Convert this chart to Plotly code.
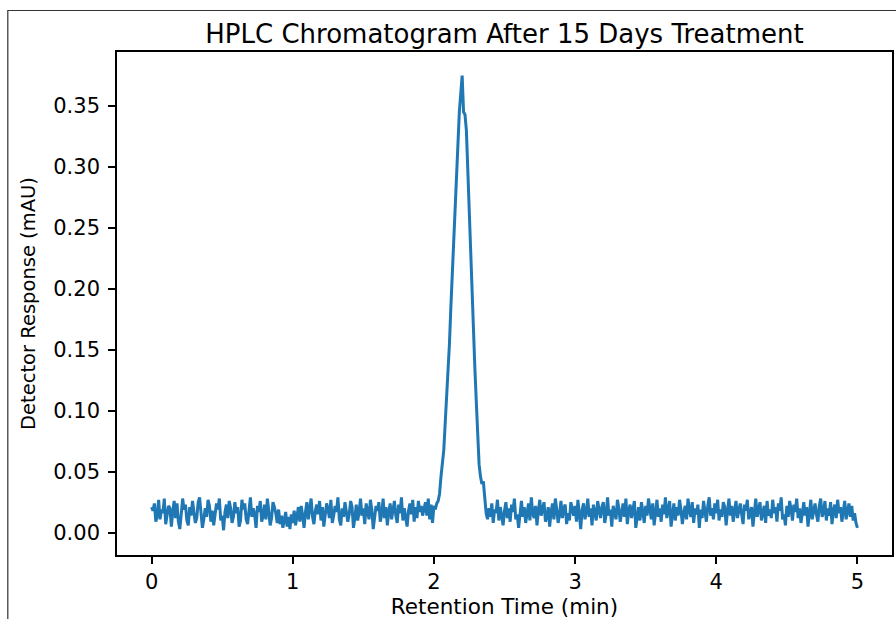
import plotly.graph_objects as go

response_mau = [
    # 0.00 - 0.49
    0.021, 0.018, 0.024, 0.009, 0.014, 0.027, 0.011, 0.019, 0.016, 0.028,
    0.007, 0.013, 0.022, 0.020, 0.005, 0.017, 0.026, 0.012, 0.024, 0.009,
    0.003, 0.015, 0.028, 0.019, 0.023, 0.010, 0.006, 0.021, 0.014, 0.026,
    0.018, 0.008, 0.012, 0.025, 0.029, 0.016, 0.004, 0.011, 0.020, 0.013,
    0.027, 0.022, 0.009, 0.018, 0.006, 0.015, 0.024, 0.019, 0.028, 0.010,
    # 0.50 - 0.99
    0.014, 0.002, 0.017, 0.023, 0.012, 0.026, 0.020, 0.008, 0.013, 0.025,
    0.016, 0.021, 0.005, 0.010, 0.027, 0.019, 0.024, 0.011, 0.007, 0.018,
    0.029, 0.013, 0.020, 0.015, 0.004, 0.022, 0.017, 0.026, 0.009, 0.014,
    0.023, 0.011, 0.028, 0.018, 0.006, 0.012, 0.025, 0.021, 0.016, 0.008,
    0.019, 0.007, 0.014, 0.004, 0.012, 0.017, 0.005, 0.013, 0.003, 0.015,
    # 1.00 - 1.49
    0.008, 0.018, 0.006, 0.012, 0.021, 0.009, 0.022, 0.014, 0.004, 0.017,
    0.025, 0.011, 0.020, 0.028, 0.013, 0.007, 0.018, 0.023, 0.015, 0.026,
    0.010, 0.021, 0.005, 0.016, 0.024, 0.019, 0.012, 0.027, 0.008, 0.014,
    0.022, 0.017, 0.029, 0.011, 0.006, 0.020, 0.013, 0.025, 0.018, 0.009,
    0.015, 0.026, 0.021, 0.004, 0.012, 0.023, 0.010, 0.017, 0.028, 0.014,
    # 1.50 - 1.99
    0.020, 0.007, 0.024, 0.016, 0.011, 0.027, 0.019, 0.003, 0.013, 0.022,
    0.018, 0.025, 0.009, 0.015, 0.028, 0.012, 0.021, 0.006, 0.017, 0.024,
    0.011, 0.019, 0.026, 0.014, 0.008, 0.023, 0.016, 0.029, 0.010, 0.020,
    0.013, 0.005, 0.018, 0.024, 0.015, 0.027, 0.009, 0.021, 0.012, 0.026,
    0.017, 0.022, 0.014, 0.019, 0.025, 0.014, 0.028, 0.011, 0.023, 0.008,
    # 2.00 - 2.49 (main peak)
    0.022, 0.019, 0.024, 0.026, 0.032, 0.046, 0.058, 0.068, 0.090, 0.110,
    0.128, 0.155, 0.185, 0.212, 0.240, 0.270, 0.300, 0.330, 0.345, 0.360,
    0.375, 0.345, 0.343, 0.330, 0.295, 0.258, 0.225, 0.195, 0.165, 0.135,
    0.108, 0.078, 0.056, 0.046, 0.040, 0.042, 0.028, 0.016, 0.011, 0.020,
    0.013, 0.024, 0.008, 0.019, 0.016, 0.027, 0.010, 0.021, 0.014, 0.006,
    # 2.50 - 2.99
    0.018, 0.025, 0.012, 0.020, 0.009, 0.023, 0.017, 0.028, 0.011, 0.015,
    0.004, 0.019, 0.026, 0.013, 0.021, 0.008, 0.017, 0.024, 0.010, 0.029,
    0.016, 0.012, 0.022, 0.006, 0.018, 0.027, 0.014, 0.020, 0.025, 0.009,
    0.013, 0.021, 0.005, 0.017, 0.024, 0.011, 0.028, 0.019, 0.008, 0.015,
    0.026, 0.012, 0.020, 0.023, 0.007, 0.016, 0.010, 0.025, 0.018, 0.014,
    # 3.00 - 3.49
    0.022, 0.009, 0.027, 0.015, 0.003, 0.019, 0.024, 0.011, 0.017, 0.028,
    0.013, 0.020, 0.006, 0.023, 0.016, 0.010, 0.026, 0.018, 0.012, 0.021,
    0.025, 0.008, 0.015, 0.029, 0.014, 0.019, 0.005, 0.022, 0.017, 0.011,
    0.027, 0.020, 0.009, 0.016, 0.024, 0.013, 0.028, 0.007, 0.018, 0.023,
    0.012, 0.019, 0.026, 0.004, 0.015, 0.021, 0.010, 0.025, 0.017, 0.008,
    # 3.50 - 3.99
    0.022, 0.014, 0.028, 0.018, 0.011, 0.024, 0.006, 0.016, 0.027, 0.013,
    0.020, 0.009, 0.023, 0.015, 0.029, 0.012, 0.018, 0.026, 0.005, 0.017,
    0.024, 0.010, 0.021, 0.014, 0.027, 0.019, 0.007, 0.016, 0.022, 0.011,
    0.028, 0.018, 0.013, 0.025, 0.008, 0.020, 0.015, 0.023, 0.004, 0.019,
    0.012, 0.026, 0.017, 0.009, 0.022, 0.029, 0.014, 0.020, 0.011, 0.024,
    # 4.00 - 4.49
    0.016, 0.027, 0.010, 0.019, 0.013, 0.025, 0.021, 0.006, 0.018, 0.028,
    0.014, 0.022, 0.009, 0.017, 0.026, 0.012, 0.020, 0.024, 0.015, 0.007,
    0.023, 0.018, 0.027, 0.011, 0.016, 0.021, 0.005, 0.019, 0.028, 0.013,
    0.020, 0.025, 0.010, 0.017, 0.022, 0.008, 0.026, 0.014, 0.019, 0.012,
    0.027, 0.016, 0.021, 0.009, 0.024, 0.018, 0.029, 0.011, 0.015, 0.006,
    # 4.50 - 5.00
    0.022, 0.013, 0.026, 0.019, 0.010, 0.023, 0.017, 0.028, 0.012, 0.020,
    0.008, 0.016, 0.025, 0.014, 0.021, 0.005, 0.018, 0.027, 0.011, 0.019,
    0.024, 0.015, 0.009, 0.022, 0.028, 0.013, 0.017, 0.026, 0.010, 0.020,
    0.014, 0.025, 0.007, 0.018, 0.023, 0.012, 0.027, 0.016, 0.021, 0.009,
    0.019, 0.026, 0.011, 0.017, 0.024, 0.013, 0.022, 0.010, 0.016, 0.008,
    0.004,
]
time_step_min = 0.01
retention_time_min = [round(i * time_step_min, 2) for i in range(len(response_mau))]

x_ticks = [0, 1, 2, 3, 4, 5]
y_ticks = [0.00, 0.05, 0.10, 0.15, 0.20, 0.25, 0.30, 0.35]

title_text = "HPLC Chromatogram After 15 Days Treatment"
x_label = "Retention Time (min)"
y_label = "Detector Response (mAU)"

FONT = "DejaVu Sans"

fig = go.Figure()
fig.add_trace(go.Scatter(
    x=retention_time_min, y=response_mau, mode="lines",
    line=dict(color="#1f77b4", width=3),
    showlegend=False, hoverinfo="skip",
))

axis_common = dict(
    showgrid=False, zeroline=False, showline=True, mirror=True,
    linecolor="black", linewidth=1.6,
    ticks="outside", ticklen=7, tickwidth=1.6, tickcolor="black",
    tickfont=dict(family=FONT, size=21, color="black"),
)

fig.update_layout(
    width=896, height=619,
    margin=dict(l=117, r=2, t=52, b=64),
    paper_bgcolor="white", plot_bgcolor="white",
    title=dict(text=title_text, x=0.5, xref="paper", xanchor="center",
               y=1 - 34 / 619, yref="container", yanchor="middle",
               font=dict(family=FONT, size=26, color="black")),
    xaxis=dict(range=[-0.245, 5.245], tickvals=x_ticks,
               ticktext=[str(v) for v in x_ticks],
               title=dict(text=x_label, standoff=4,
                          font=dict(family=FONT, size=21.5, color="black")),
               ticklabelstandoff=0,
               **axis_common),
    yaxis=dict(range=[-0.0183, 0.3943], tickvals=y_ticks,
               ticktext=[f"{v:.2f}" for v in y_ticks],
               title=dict(text=y_label, standoff=12,
                          font=dict(family=FONT, size=19.5, color="black")),
               ticklabelstandoff=4,
               **axis_common),
    shapes=[dict(type="path", xref="paper", yref="paper",
                 path="M -0.1409 -0.2 L -0.1409 1.0825 L 1.05 1.0825",
                 line=dict(color="#333333", width=1.2))],
)

fig.write_html(
    "out.html",
    config={"displayModeBar": False},
    post_script="document.body.style.margin='0';document.body.style.padding='0';",
)
